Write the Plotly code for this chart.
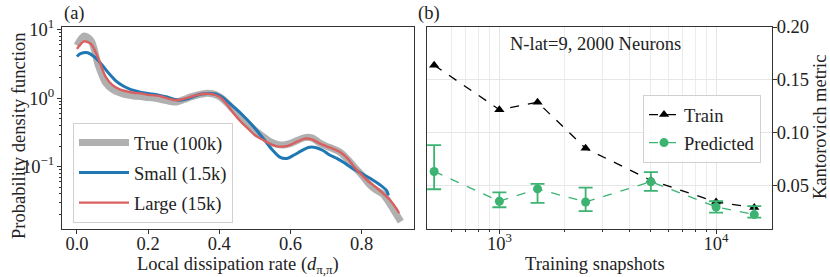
import plotly.graph_objects as go

# ---------------- Panel (a) data ----------------
x_true = [0.00, 0.02, 0.04, 0.06, 0.08, 0.10, 0.12, 0.14, 0.16, 0.18,
          0.20, 0.22, 0.24, 0.26, 0.28, 0.30, 0.32, 0.34, 0.36, 0.38,
          0.40, 0.42, 0.44, 0.46, 0.48, 0.50, 0.52, 0.54, 0.56, 0.58,
          0.60, 0.62, 0.64, 0.66, 0.68, 0.70, 0.72, 0.74, 0.76, 0.78,
          0.80, 0.82, 0.84, 0.86, 0.88, 0.90, 0.91]
pdf_true = [5.89, 8.13, 6.92, 3.02, 1.70, 1.35, 1.20, 1.12, 1.08, 1.06,
            1.02, 1.00, 0.944, 0.902, 0.881, 0.955, 1.047, 1.122, 1.175, 1.161,
            1.059, 0.871, 0.676, 0.537, 0.427, 0.339, 0.282, 0.237, 0.214, 0.207,
            0.219, 0.243, 0.266, 0.263, 0.226, 0.200, 0.182, 0.162, 0.129, 0.0977,
            0.0759, 0.0562, 0.0457, 0.0398, 0.0282, 0.0191, 0.0158]

x_small = [0.00, 0.01, 0.03, 0.05, 0.07, 0.09, 0.11, 0.13, 0.15, 0.17,
           0.19, 0.21, 0.23, 0.25, 0.27, 0.29, 0.31, 0.33, 0.35, 0.37,
           0.39, 0.41, 0.43, 0.45, 0.47, 0.49, 0.51, 0.53, 0.55, 0.57,
           0.59, 0.61, 0.63, 0.65, 0.67, 0.69, 0.71, 0.73, 0.75, 0.77,
           0.79, 0.81, 0.83, 0.85, 0.87, 0.875]
pdf_small = [4.07, 4.47, 4.62, 3.98, 3.09, 2.29, 1.78, 1.51, 1.35, 1.26,
             1.19, 1.15, 1.11, 1.05, 0.977, 0.933, 0.977, 1.07, 1.15, 1.175,
             1.15, 1.02, 0.832, 0.676, 0.537, 0.417, 0.316, 0.234, 0.174, 0.138,
             0.132, 0.148, 0.170, 0.191, 0.191, 0.174, 0.148, 0.132, 0.115, 0.0977,
             0.0851, 0.0741, 0.0646, 0.0550, 0.0447, 0.0380]

x_large = [0.00, 0.02, 0.04, 0.06, 0.08, 0.10, 0.12, 0.14, 0.16, 0.18,
           0.20, 0.22, 0.24, 0.26, 0.28, 0.30, 0.32, 0.34, 0.36, 0.38,
           0.40, 0.42, 0.44, 0.46, 0.48, 0.50, 0.52, 0.54, 0.56, 0.58,
           0.60, 0.62, 0.64, 0.66, 0.68, 0.70, 0.72, 0.74, 0.76, 0.78,
           0.80, 0.82, 0.84, 0.86, 0.88, 0.90, 0.905]
pdf_large = [5.25, 6.76, 6.17, 3.80, 2.09, 1.55, 1.35, 1.26, 1.20, 1.175,
             1.12, 1.10, 1.05, 0.977, 0.933, 0.977, 1.05, 1.12, 1.16, 1.15,
             1.05, 0.832, 0.603, 0.457, 0.363, 0.288, 0.251, 0.219, 0.200, 0.197,
             0.209, 0.234, 0.257, 0.251, 0.221, 0.200, 0.182, 0.162, 0.132, 0.0977,
             0.0759, 0.0603, 0.0501, 0.0407, 0.0324, 0.0234, 0.0209]

xticks_a = [0.0, 0.2, 0.4, 0.6, 0.8]
xticklabels_a = ["0.0", "0.2", "0.4", "0.6", "0.8"]
yticks_a = [0.1, 1, 10]
yticklabels_a = ["10<sup>\u22121</sup>", "10<sup>0</sup>", "10<sup>1</sup>"]
yminor_a = [0.02, 0.03, 0.04, 0.05, 0.06, 0.07, 0.08, 0.09,
            0.2, 0.3, 0.4, 0.5, 0.6, 0.7, 0.8, 0.9,
            2, 3, 4, 5, 6, 7, 8, 9]

# ---------------- Panel (b) data ----------------
snapshots = [500, 1000, 1500, 2500, 5000, 10000, 15000]
train_k = [0.164, 0.122, 0.129, 0.0855, 0.0554, 0.0349, 0.0296]
pred_k = [0.0637, 0.0356, 0.0472, 0.0349, 0.0540, 0.0302, 0.0230]
pred_err_plus = [0.0248, 0.0084, 0.0048, 0.0136, 0.0091, 0.0054, 0.0080]
pred_err_minus = [0.0168, 0.0057, 0.0132, 0.0087, 0.0087, 0.0053, 0.0028]

xticks_b = [1000, 10000]
xticklabels_b = ["10<sup>3</sup>", "10<sup>4</sup>"]
xminor_b = [600, 700, 800, 900, 2000, 3000, 4000, 5000, 6000, 7000, 8000, 9000]
yticks_b = [0.05, 0.10, 0.15, 0.20]
yticklabels_b = ["0.05", "0.10", "0.15", "0.20"]

FONT = "Liberation Serif, serif"
FS = 18.5
AXC = "#333333"
TXT = "#222222"

fig = go.Figure()

fig.add_trace(go.Scatter(x=x_true, y=pdf_true, mode="lines", name="True (100k)",
                         line=dict(color="#b0b0b0", width=7, shape="spline", smoothing=0.8),
                         xaxis="x", yaxis="y", legend="legend", legendgroup="a1"))
fig.add_trace(go.Scatter(x=x_small, y=pdf_small, mode="lines", name="Small (1.5k)",
                         line=dict(color="#1f77b4", width=3, shape="spline", smoothing=0.8),
                         xaxis="x", yaxis="y", legend="legend", legendgroup="a2"))
fig.add_trace(go.Scatter(x=x_large, y=pdf_large, mode="lines", name="Large (15k)",
                         line=dict(color="#d9605f", width=2.4, shape="spline", smoothing=0.8),
                         xaxis="x", yaxis="y", legend="legend", legendgroup="a3"))

fig.add_trace(go.Scatter(x=snapshots, y=train_k, mode="lines+markers", name="Train",
                         line=dict(color="black", width=1.3, dash="dash"),
                         marker=dict(symbol="triangle-up", size=9, color="black"),
                         xaxis="x2", yaxis="y2", legend="legend2", legendgroup="b1"))
fig.add_trace(go.Scatter(x=snapshots, y=pred_k, mode="lines+markers", name="Predicted",
                         line=dict(color="#3cb371", width=1.3, dash="dash"),
                         marker=dict(symbol="circle", size=9, color="#3cb371"),
                         error_y=dict(type="data", array=pred_err_plus, arrayminus=pred_err_minus,
                                      color="#3cb371", thickness=1.8, width=7),
                         xaxis="x2", yaxis="y2", legend="legend2", legendgroup="b2"))

W, H = 830, 277
yd = [1 - 229 / H, 1 - 27 / H]
tf = dict(family=FONT, size=FS, color=TXT)


def px(x):
    return x / W


def py(y):
    return 1 - y / H


fig.update_layout(
    width=W, height=H,
    margin=dict(l=0, r=0, t=0, b=0),
    paper_bgcolor="white", plot_bgcolor="white",
    font=tf,
    showlegend=True,
    xaxis=dict(domain=[px(62), px(414)], range=[-0.042, 0.947], automargin=False,
               tickvals=xticks_a, ticktext=xticklabels_a, tickfont=tf, ticklabelstandoff=-6,
               ticks="outside", ticklen=4, tickcolor=AXC, showgrid=False, zeroline=False,
               showline=True, linecolor=AXC, linewidth=1, mirror=True, anchor="y"),
    yaxis=dict(domain=yd, type="log", range=[-1.91, 1.04], automargin=False,
               tickvals=yticks_a, ticktext=yticklabels_a, tickfont=tf, ticklabelstandoff=-1,
               ticks="outside", ticklen=4, tickcolor=AXC, showgrid=False, zeroline=False,
               showline=True, linecolor=AXC, linewidth=1, mirror=True,
               minor=dict(ticks="outside", ticklen=2, tickcolor=AXC, showgrid=False,
                          tickvals=yminor_a),
               anchor="x"),
    xaxis2=dict(domain=[px(427), px(772)], type="log", range=[2.666, 4.258], automargin=False,
                tickvals=xticks_b, ticktext=xticklabels_b, tickfont=tf, ticklabelstandoff=-6,
                ticks="outside", ticklen=4, tickcolor=AXC,
                showgrid=True, gridcolor="#e6e6e6", gridwidth=1, zeroline=False,
                showline=True, linecolor=AXC, linewidth=1, mirror=True,
                minor=dict(tickvals=xminor_b, ticks="outside", ticklen=2, tickcolor=AXC,
                           showgrid=True, gridcolor="#ececec", gridwidth=1),
                anchor="y2"),
    yaxis2=dict(domain=yd, range=[0.0094, 0.20], side="right", automargin=False,
                tickvals=yticks_b, ticktext=yticklabels_b, tickfont=tf, ticklabelstandoff=-4,
                ticks="outside", ticklen=4, tickcolor=AXC,
                showgrid=True, gridcolor="#e6e6e6", gridwidth=1, zeroline=False,
                showline=True, linecolor=AXC, linewidth=1, mirror=True,
                anchor="x2"),
    legend=dict(x=px(73), y=py(123), xanchor="left", yanchor="top",
                bgcolor="rgba(255,255,255,0.85)", bordercolor="#d0d0d0", borderwidth=1,
                font=tf, tracegroupgap=3, itemwidth=50),
    legend2=dict(x=px(643), y=py(95), xanchor="left", yanchor="top",
                 bgcolor="rgba(255,255,255,0.85)", bordercolor="#d0d0d0", borderwidth=1,
                 font=tf, tracegroupgap=1, itemwidth=30),
    annotations=[
        dict(text="(a)", x=px(62), y=py(1), xref="paper", yref="paper",
             xanchor="left", yanchor="top", showarrow=False, font=tf),
        dict(text="(b)", x=px(416), y=py(1), xref="paper", yref="paper",
             xanchor="left", yanchor="top", showarrow=False, font=tf),
        dict(text="N-lat=9, 2000 Neurons", x=px(595), y=py(44), xref="paper", yref="paper",
             xanchor="center", yanchor="middle", showarrow=False, font=tf),
        dict(text="Local dissipation rate (<i>d</i><sub>\u03c0,\u03c0</sub>)", x=px(238), y=py(265),
             xref="paper", yref="paper", xanchor="center", yanchor="middle",
             showarrow=False, font=tf),
        dict(text="Training snapshots", x=px(595), y=py(264),
             xref="paper", yref="paper", xanchor="center", yanchor="middle",
             showarrow=False, font=tf),
        dict(text="Probability density function", x=px(19), y=py(136), textangle=-90,
             xref="paper", yref="paper", xanchor="center", yanchor="middle",
             showarrow=False, font=tf),
        dict(text="Kantorovich metric", x=px(820), y=py(127), textangle=-90,
             xref="paper", yref="paper", xanchor="center", yanchor="middle",
             showarrow=False, font=tf),
    ],
)

fig.write_html("out.html", post_script="document.body.style.margin='0px';",
               config={"displayModeBar": False})
